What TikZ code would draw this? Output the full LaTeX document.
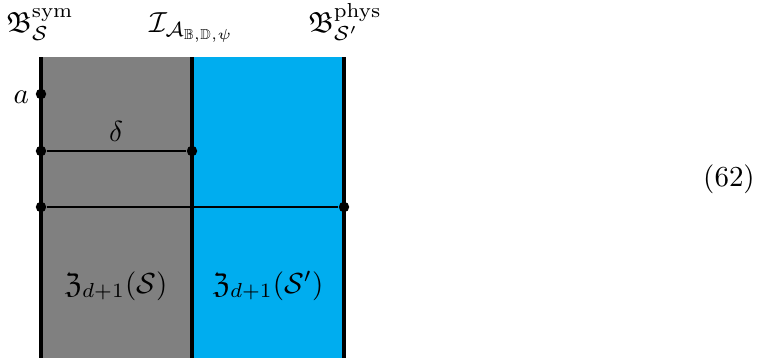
\documentclass[tikz,border=0pt]{standalone}
\usepackage{amsmath,amssymb}
\usetikzlibrary{positioning}
\definecolor{BulkGray}{HTML}{808080}
\definecolor{BulkBlue}{HTML}{00ADEF}

\begin{document}
\begin{tikzpicture}[
	x=0.345pt, y=-0.345pt,
	wall/.style={draw, line width=1.2pt},
	rung/.style={draw, line width=0.8pt},
	dot/.style={circle, fill, inner sep=0pt, minimum size=3.6pt},
	lbl/.style={anchor=base, inner sep=0pt}
]
\useasboundingbox (0,0) rectangle (762,358);
\fill[BulkGray] (41,57) rectangle (192,358);
\fill[BulkBlue] (192,57) rectangle (344,358);

\coordinate (symtop) at (41,57);
\coordinate (symbot) at (41,358);
\coordinate (inttop) at (192,57);
\coordinate (intbot) at (192,358);
\coordinate (phystop) at (344,57);
\coordinate (physbot) at (344,358);

\draw[wall] (symtop) -- (symbot);
\draw[wall] (inttop) -- (intbot);
\draw[wall] (phystop) -- (physbot);

\node[dot] (a) at (41,94) {};
\node[dot] (dl) at (41,151) {};
\node[dot] (dr) at (192,151) {};
\node[dot] (ll) at (41,207) {};
\node[dot] (lr) at (344,207) {};

\draw[rung] (dl) -- (dr);
\draw[rung] (ll) -- (lr);

\node[left=2pt of a, inner sep=0pt, yshift=-1pt] (alabel) {$a$};
\node[lbl] (delta) at (116,141) {$\delta$};
\node[lbl] (symlabel) at (40,32) {$\mathfrak{B}^{\text{sym}}_{\mathcal{S}}$};
\node[lbl] (intlabel) at (192,32) {$\mathcal{I}_{\mathcal{A}_{\mathbb{B},\mathbb{D},\psi}}$};
\node[lbl] (physlabel) at (345,32) {$\mathfrak{B}^{\text{phys}}_{\mathcal{S}'}$};
\node[lbl] (zleft) at (116,293) {$\mathfrak{Z}_{d+1}(\mathcal{S})$};
\node[lbl] (zright) at (268,293) {$\mathfrak{Z}_{d+1}(\mathcal{S}')$};
\node (eqno) at (729,179) {(62)};
\end{tikzpicture}
\end{document}
